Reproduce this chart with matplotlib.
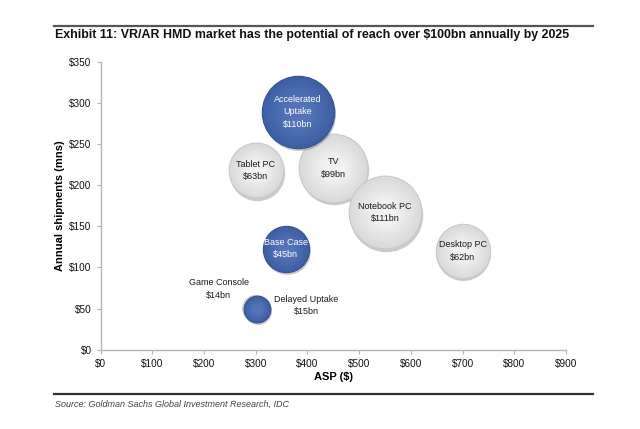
import matplotlib
matplotlib.use("Agg")
import matplotlib.pyplot as plt
import matplotlib.transforms as mtransforms
import numpy as np
from matplotlib.colors import to_rgb

names = ["Tablet PC", "TV", "Notebook PC", "Desktop PC", "Game Console",
         "Base Case", "Delayed Uptake", "Accelerated Uptake"]
asp = [300, 450, 550, 700, 298, 358, 303, 381]
shipments = [218, 221, 167, 120, 51, 123, 50, 289]
revenue = [63, 99, 111, 62, 14, 45, 15, 110]
scenario = [False, False, False, False, False, True, True, True]
label_text = ["Tablet PC\n$63bn", "TV\n$99bn", "Notebook PC\n$111bn", "Desktop PC\n$62bn",
              "Game Console\n$14bn", "Base Case\n$45bn", "Delayed Uptake\n$15bn",
              "Accelerated\nUptake\n$110bn"]
xticks = [0, 100, 200, 300, 400, 500, 600, 700, 800, 900]
yticks = [0, 50, 100, 150, 200, 250, 300, 350]

plt.rcParams['font.family'] = ['Liberation Sans', 'DejaVu Sans']

fig = plt.figure(figsize=(6.4, 4.29), dpi=100)
ax = fig.add_axes([0.1573, 0.1848, 0.7271, 0.6713])
ax.set_xlim(0, 900)
ax.set_ylim(0, 350)
ax.set_xticks(xticks)
ax.set_yticks(yticks)
ax.set_xticklabels([f"${v}" for v in xticks])
ax.set_yticklabels([f"${v}" for v in yticks])
for s in ["top", "right"]:
    ax.spines[s].set_visible(False)
for s in ["left", "bottom"]:
    ax.spines[s].set_color("#b4b4b4")
    ax.spines[s].set_linewidth(1.0)
ax.tick_params(colors="#b4b4b4", labelcolor="#111111", labelsize=7.2, length=3, width=0.8)
ax.set_xlabel("ASP ($)", fontsize=8, fontweight="bold", labelpad=2)
ax.set_ylabel("Annual shipments (mns)", fontsize=8, fontweight="bold", labelpad=3)

shadow_tr = mtransforms.offset_copy(ax.transData, fig=fig, x=0.6, y=-1.6, units="points")
k = 24.7

def blend(c1, c2, t):
    a, b = np.array(to_rgb(c1)), np.array(to_rgb(c2))
    return tuple(a + (b - a) * t)

for i in range(len(names)):
    x, y, v = asp[i], shipments[i], revenue[i]
    s = k * v
    if scenario[i]:
        edge, outer, inner = "#35528f", "#3d5fa6", "#5374b8"
    else:
        edge, outer, inner = "#c9c9c9", "#dadada", "#f1f1f1"
    z = 2 + i * 0.1
    ax.scatter([x], [y], s=s * 1.02, color="#8a8a8a", alpha=0.45, linewidths=0,
               transform=shadow_tr, zorder=z)
    ax.scatter([x], [y], s=s, color=outer, edgecolors=edge, linewidths=0.8, zorder=z + 0.01)
    for j, f in enumerate(np.linspace(0.9, 0.35, 8)):
        ax.scatter([x], [y], s=s * f * f, color=blend(outer, inner, (j + 1) / 8),
                   linewidths=0, zorder=z + 0.02 + j * 0.001)

for i in range(len(names)):
    x, y = asp[i], shipments[i]
    z = 5
    kw = dict(ha="center", va="center", fontsize=6.5, linespacing=1.5, zorder=z)
    if names[i] == "Game Console":
        ax.annotate(label_text[i], (x, y), xytext=(-26, 13.5), textcoords="offset points",
                    color="#1a1a1a", **kw)
    elif names[i] == "Delayed Uptake":
        ax.annotate(label_text[i], (x, y), xytext=(35, 2.2), textcoords="offset points",
                    color="#1a1a1a", **kw)
    else:
        col = "white" if scenario[i] else "#1a1a1a"
        ax.text(x, y, label_text[i], color=col, **kw)

# title and rules
fig.add_artist(plt.Line2D([54 / 640, 593 / 640], [1 - 25.5 / 429] * 2, color="#555555", lw=1.6))
fig.text(55 / 640, 1 - 35 / 429, "Exhibit 11: VR/AR HMD market has the potential of reach over $100bn annually by 2025",
         fontsize=8.9, fontweight="bold", ha="left", va="center", color="#111111")
fig.add_artist(plt.Line2D([54 / 640, 593 / 640], [1 - 393.5 / 429] * 2, color="#333333", lw=1.6))
fig.text(55 / 640, 1 - 404 / 429, "Source: Goldman Sachs Global Investment Research, IDC",
         fontsize=6.5, style="italic", ha="left", va="center", color="#444444")

fig.savefig("out.png", dpi=100)
